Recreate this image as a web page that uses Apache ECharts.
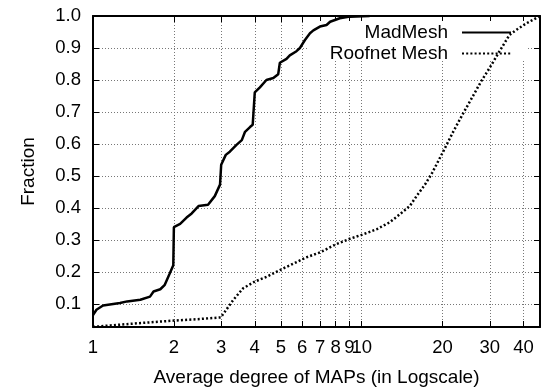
<!DOCTYPE html>
<html>
<head>
<meta charset="utf-8">
<script src="https://cdn.jsdelivr.net/npm/echarts@6/dist/echarts.min.js"></script>
<style>
  html, body { margin: 0; padding: 0; background: #fff; }
  #chart { width: 541px; height: 392px; }
</style>
</head>
<body>
<div id="chart"></div>
<script>
// CDF of average MAP degree
const madDegree = [1.0, 1.03, 1.09, 1.26, 1.34, 1.5, 1.63, 1.68, 1.78, 1.85, 1.93, 1.99, 2.0,
  2.11, 2.23, 2.33, 2.47, 2.68, 2.84, 2.97, 3.0, 3.12, 3.23, 3.42, 3.58, 3.68, 3.84, 3.93,
  4.0, 4.18, 4.42, 4.69, 4.89, 4.96, 5.25, 5.4, 5.72, 5.89, 6.15, 6.42, 6.61, 6.99, 7.4,
  7.63, 8.29, 9.05, 10.7]
const madFrac = [0.065, 0.082, 0.095, 0.103, 0.108, 0.113, 0.123, 0.139, 0.146, 0.16, 0.195, 0.221, 0.34,
  0.35, 0.37, 0.383, 0.406, 0.41, 0.437, 0.473, 0.535, 0.566, 0.576, 0.597, 0.612, 0.638, 0.653, 0.66,
  0.761, 0.777, 0.8, 0.806, 0.818, 0.854, 0.866, 0.877, 0.89, 0.9, 0.925, 0.946, 0.955, 0.967, 0.972,
  0.982, 0.993, 0.998, 1.0]

const roofDegree = [1.0, 1.16, 1.54, 2.0, 2.5, 2.99, 3.33, 3.62, 4.0, 4.43, 4.96, 5.57, 6.2, 7.03,
  8.0, 8.98, 10.0, 11.4, 12.7, 13.9, 15.1, 16.0, 17.2, 18.3, 20.1, 21.9, 23.8, 26.0, 27.9,
  30.0, 32.6, 35.5, 37.7, 41.0, 46.1]
const roofFrac = [0.028, 0.033, 0.041, 0.048, 0.053, 0.058, 0.113, 0.149, 0.17, 0.185, 0.206, 0.226, 0.245, 0.262,
  0.286, 0.303, 0.316, 0.334, 0.355, 0.381, 0.406, 0.437, 0.473, 0.51, 0.576, 0.638, 0.694, 0.751, 0.797,
  0.839, 0.89, 0.941, 0.957, 0.977, 1.0]

const xTicks = [1, 2, 3, 4, 5, 6, 7, 8, 9, 10, 20, 30, 40]
const yTicks = [0.1, 0.2, 0.3, 0.4, 0.5, 0.6, 0.7, 0.8, 0.9, 1.0]

const font = 'Liberation Sans'
const chart = echarts.init(document.getElementById('chart'))

const axisLine = { show: true, lineStyle: { color: '#000', width: 2 } }
const tick = (vals) => ({ show: true, inside: true, length: 6, customValues: vals, lineStyle: { color: '#000', width: 1 } })
const grid = { show: true, lineStyle: { color: '#777', width: 1, type: [1, 2] } }

const option = {
  animation: false,
  backgroundColor: '#fff',
  grid: { left: 93, top: 16, right: 1, bottom: 61 },
  // white box behind the key (covers grid lines, below curves)
  graphic: [{
    type: 'rect', z: 1, silent: true,
    shape: { x: 309, y: 21, width: 218, height: 39 },
    style: { fill: '#fff' }
  }],
  legend: {
    orient: 'vertical',
    align: 'right',
    right: 24,
    top: 18,
    itemWidth: 49,
    itemHeight: 14,
    itemGap: 2,
    itemStyle: { opacity: 0 },
    textStyle: { fontFamily: font, fontSize: 19, color: '#000', padding: [0, 9, 0, 0] },
    data: ['MadMesh', 'Roofnet Mesh']
  },
  xAxis: [{
    type: 'log', logBase: 10, min: 1, max: 46.1,
    position: 'bottom',
    name: 'Average degree of MAPs (in Logscale)',
    nameLocation: 'middle', nameGap: 41,
    nameTextStyle: { fontFamily: font, fontSize: 19, color: '#000' },
    axisLine: axisLine,
    axisTick: tick(xTicks),
    minorTick: { show: false },
    axisLabel: { customValues: xTicks, margin: 11, fontFamily: font, fontSize: 18.5, color: '#000' },
    splitLine: grid
  }, {
    type: 'log', logBase: 10, min: 1, max: 46.1,
    position: 'top',
    axisLine: axisLine,
    axisTick: tick(xTicks),
    axisLabel: { show: false },
    splitLine: { show: false }
  }],
  yAxis: [{
    type: 'value', min: 0.028, max: 1,
    position: 'left',
    name: 'Fraction',
    nameLocation: 'middle', nameGap: 55,
    nameTextStyle: { fontFamily: font, fontSize: 19, color: '#000' },
    axisLine: axisLine,
    axisTick: tick(yTicks),
    axisLabel: { customValues: yTicks, margin: 12, fontFamily: font, fontSize: 18.5, color: '#000',
      formatter: v => v.toFixed(1) },
    splitLine: grid
  }, {
    type: 'value', min: 0.028, max: 1,
    position: 'right',
    axisLine: axisLine,
    axisTick: tick(yTicks),
    axisLabel: { show: false },
    splitLine: { show: false }
  }],
  series: [{
    name: 'MadMesh',
    type: 'line',
    symbol: 'none',
    z: 3,
    lineStyle: { color: '#000', width: 2.5 },
    itemStyle: { color: '#000' },
    data: madDegree.map((d, i) => [d, madFrac[i]])
  }, {
    name: 'Roofnet Mesh',
    type: 'line',
    symbol: 'none',
    z: 3,
    lineStyle: { color: '#000', width: 2.5, type: [2, 2.2] },
    itemStyle: { color: '#000' },
    data: roofDegree.map((d, i) => [d, roofFrac[i]])
  }]
}

chart.setOption(option)
</script>
</body>
</html>
